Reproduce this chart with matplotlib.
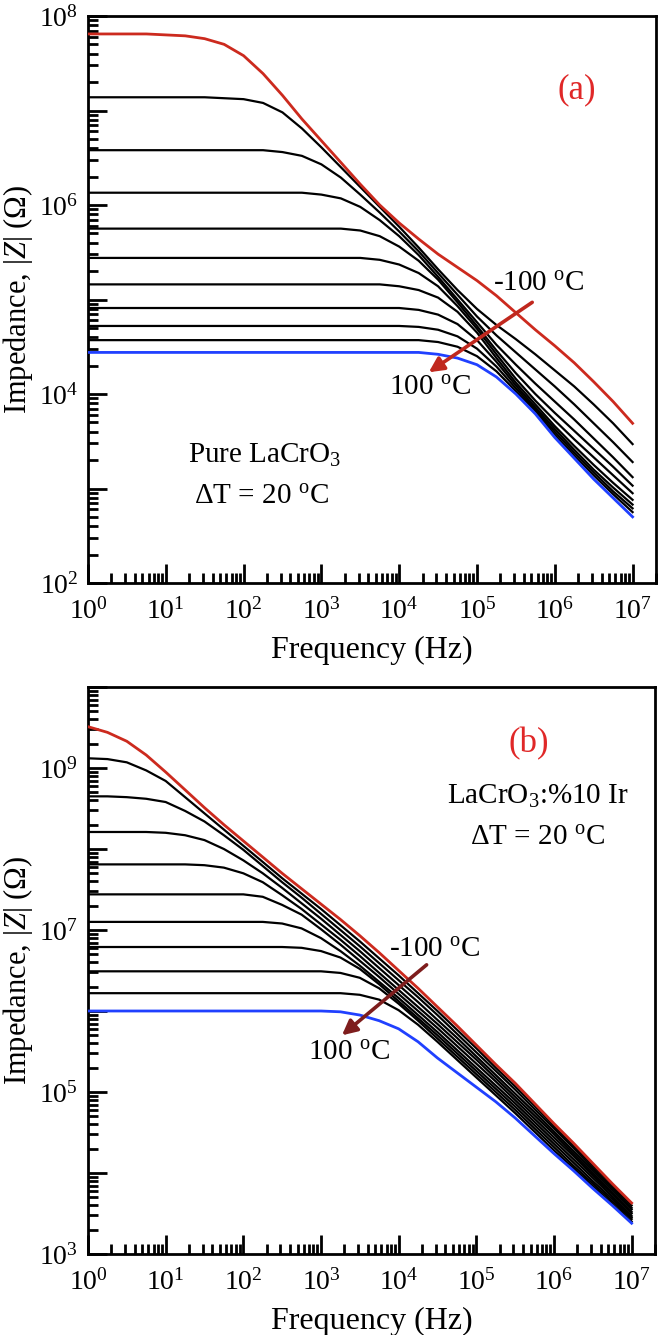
import numpy as np
import matplotlib
matplotlib.use("Agg")
import matplotlib.pyplot as plt
from matplotlib.ticker import LogLocator, NullFormatter

plt.rcParams.update({
    "font.family": ["Liberation Serif", "DejaVu Serif"],
    "mathtext.fontset": "custom",
    "mathtext.rm": "Liberation Serif",
    "mathtext.it": "Liberation Serif:italic",
    "mathtext.bf": "Liberation Serif:bold",
})

# ---------------- data ----------------
freq_hz = [1.0, 1.78, 3.16, 5.62, 10, 17.8, 31.6, 56.2, 100, 178, 316, 562,
           1e3, 1.78e3, 3.16e3, 5.62e3, 1e4, 1.78e4, 3.16e4, 5.62e4,
           1e5, 1.78e5, 3.16e5, 5.62e5, 1e6, 1.78e6, 3.16e6, 5.62e6, 1e7]

temperatures_c = [-100, -80, -60, -40, -20, 0, 20, 40, 60, 80, 100]

# panel (a): pure LaCrO3, log10|Z| (Ohm)
a_m100 = [7.81, 7.81, 7.81, 7.81, 7.80, 7.79, 7.76, 7.70, 7.58, 7.39, 7.16, 6.91, 6.68, 6.45, 6.22,
          6.00, 5.81, 5.64, 5.48, 5.34, 5.20, 5.04, 4.86, 4.68, 4.51, 4.33, 4.13, 3.92, 3.69]
a_m80 = [7.14, 7.14, 7.14, 7.14, 7.14, 7.14, 7.14, 7.13, 7.12, 7.08, 6.98, 6.81, 6.61, 6.40, 6.19,
         5.98, 5.77, 5.55, 5.32, 5.10, 4.90, 4.73, 4.58, 4.42, 4.25, 4.08, 3.89, 3.69, 3.47]
a_m60 = [6.58, 6.58, 6.58, 6.58, 6.58, 6.58, 6.58, 6.58, 6.58, 6.58, 6.56, 6.52, 6.43, 6.29, 6.11,
         5.92, 5.72, 5.51, 5.28, 5.05, 4.82, 4.62, 4.44, 4.26, 4.08, 3.89, 3.69, 3.49, 3.28]
a_m40 = [6.13, 6.13, 6.13, 6.13, 6.13, 6.13, 6.13, 6.13, 6.13, 6.13, 6.13, 6.13, 6.11, 6.07, 5.98,
         5.84, 5.67, 5.47, 5.24, 5.00, 4.76, 4.52, 4.31, 4.11, 3.92, 3.73, 3.53, 3.33, 3.12]
a_m20 = [5.75, 5.75, 5.75, 5.75, 5.75, 5.75, 5.75, 5.75, 5.75, 5.75, 5.75, 5.75, 5.75, 5.75, 5.73,
         5.67, 5.56, 5.41, 5.21, 4.97, 4.72, 4.46, 4.22, 4.00, 3.80, 3.61, 3.42, 3.23, 3.03]
a_0 = [5.44, 5.44, 5.44, 5.44, 5.44, 5.44, 5.44, 5.44, 5.44, 5.44, 5.44, 5.44, 5.44, 5.44, 5.44,
       5.42, 5.37, 5.28, 5.14, 4.93, 4.69, 4.42, 4.16, 3.93, 3.72, 3.52, 3.33, 3.14, 2.95]
a_p20 = [5.16, 5.16, 5.16, 5.16, 5.16, 5.16, 5.16, 5.16, 5.16, 5.16, 5.16, 5.16, 5.16, 5.16, 5.16,
         5.16, 5.14, 5.10, 5.02, 4.87, 4.65, 4.38, 4.12, 3.89, 3.66, 3.45, 3.25, 3.06, 2.88]
a_p40 = [4.91, 4.91, 4.91, 4.91, 4.91, 4.91, 4.91, 4.91, 4.91, 4.91, 4.91, 4.91, 4.91, 4.91, 4.91,
         4.91, 4.91, 4.89, 4.84, 4.74, 4.57, 4.34, 4.09, 3.86, 3.63, 3.41, 3.20, 3.01, 2.83]
a_p60 = [4.72, 4.72, 4.72, 4.72, 4.72, 4.72, 4.72, 4.72, 4.72, 4.72, 4.72, 4.72, 4.72, 4.72, 4.72,
         4.72, 4.72, 4.71, 4.68, 4.61, 4.48, 4.29, 4.06, 3.84, 3.60, 3.38, 3.17, 2.97, 2.79]
a_p80 = [4.57, 4.57, 4.57, 4.57, 4.57, 4.57, 4.57, 4.57, 4.57, 4.57, 4.57, 4.57, 4.57, 4.57, 4.57,
         4.57, 4.57, 4.57, 4.55, 4.50, 4.40, 4.24, 4.03, 3.82, 3.57, 3.35, 3.14, 2.94, 2.75]
a_p100 = [4.44, 4.44, 4.44, 4.44, 4.44, 4.44, 4.44, 4.44, 4.44, 4.44, 4.44, 4.44, 4.44, 4.44, 4.44,
          4.44, 4.44, 4.44, 4.42, 4.38, 4.31, 4.18, 4.00, 3.79, 3.54, 3.32, 3.10, 2.90, 2.70]

# panel (b): LaCrO3:%10 Ir, log10|Z| (Ohm)
b_m100 = [9.51, 9.44, 9.33, 9.16, 8.95, 8.73, 8.51, 8.30, 8.10, 7.90, 7.70, 7.51, 7.32, 7.13, 6.93,
          6.72, 6.50, 6.28, 6.05, 5.82, 5.58, 5.34, 5.11, 4.86, 4.61, 4.37, 4.12, 3.87, 3.63]
b_m80 = [9.12, 9.11, 9.07, 8.97, 8.84, 8.64, 8.44, 8.24, 8.04, 7.84, 7.64, 7.45, 7.26, 7.06, 6.86,
         6.65, 6.44, 6.22, 6.00, 5.77, 5.54, 5.30, 5.07, 4.83, 4.58, 4.34, 4.09, 3.85, 3.60]
b_m60 = [8.65, 8.65, 8.64, 8.62, 8.58, 8.47, 8.34, 8.17, 7.99, 7.79, 7.59, 7.40, 7.20, 7.00, 6.80,
         6.59, 6.38, 6.17, 5.95, 5.72, 5.49, 5.26, 5.03, 4.79, 4.55, 4.31, 4.06, 3.82, 3.57]
b_m40 = [8.21, 8.21, 8.21, 8.21, 8.20, 8.17, 8.11, 8.00, 7.86, 7.70, 7.52, 7.33, 7.14, 6.94, 6.74,
         6.53, 6.32, 6.11, 5.89, 5.67, 5.44, 5.21, 4.98, 4.75, 4.51, 4.27, 4.03, 3.79, 3.55]
b_m20 = [7.81, 7.81, 7.81, 7.81, 7.81, 7.81, 7.80, 7.77, 7.70, 7.59, 7.43, 7.26, 7.07, 6.88, 6.68,
         6.47, 6.26, 6.05, 5.84, 5.62, 5.40, 5.17, 4.94, 4.71, 4.48, 4.24, 4.00, 3.76, 3.52]
b_0 = [7.44, 7.44, 7.44, 7.44, 7.44, 7.44, 7.44, 7.44, 7.44, 7.41, 7.31, 7.19, 7.01, 6.82, 6.62,
       6.42, 6.21, 6.00, 5.79, 5.57, 5.35, 5.13, 4.90, 4.67, 4.44, 4.21, 3.97, 3.74, 3.50]
b_p20 = [7.10, 7.10, 7.10, 7.10, 7.10, 7.10, 7.10, 7.10, 7.10, 7.10, 7.08, 7.02, 6.90, 6.74, 6.56,
         6.36, 6.16, 5.95, 5.74, 5.52, 5.30, 5.08, 4.86, 4.63, 4.40, 4.17, 3.94, 3.71, 3.47]
b_p40 = [6.79, 6.79, 6.79, 6.79, 6.79, 6.79, 6.79, 6.79, 6.79, 6.79, 6.79, 6.78, 6.74, 6.66, 6.52,
         6.33, 6.12, 5.91, 5.70, 5.48, 5.26, 5.04, 4.82, 4.59, 4.36, 4.13, 3.90, 3.68, 3.45]
b_p60 = [6.49, 6.49, 6.49, 6.49, 6.49, 6.49, 6.49, 6.49, 6.49, 6.49, 6.49, 6.49, 6.49, 6.47, 6.41,
         6.28, 6.09, 5.88, 5.66, 5.44, 5.22, 5.00, 4.78, 4.55, 4.32, 4.09, 3.87, 3.65, 3.43]
b_p80 = [6.22, 6.22, 6.22, 6.22, 6.22, 6.22, 6.22, 6.22, 6.22, 6.22, 6.22, 6.22, 6.22, 6.22, 6.20,
         6.14, 6.01, 5.83, 5.62, 5.40, 5.18, 4.96, 4.74, 4.51, 4.28, 4.06, 3.84, 3.62, 3.40]
b_p100 = [6.00, 6.00, 6.00, 6.00, 6.00, 6.00, 6.00, 6.00, 6.00, 6.00, 6.00, 6.00, 6.00, 5.99, 5.95,
          5.88, 5.78, 5.62, 5.42, 5.24, 5.06, 4.88, 4.68, 4.46, 4.24, 4.03, 3.81, 3.60, 3.38]

panel_a = [a_m100, a_m80, a_m60, a_m40, a_m20, a_0, a_p20, a_p40, a_p60, a_p80, a_p100]
panel_b = [b_m100, b_m80, b_m60, b_m40, b_m20, b_0, b_p20, b_p40, b_p60, b_p80, b_p100]

xtick_labels = [r"$10^{0}$", r"$10^{1}$", r"$10^{2}$", r"$10^{3}$", r"$10^{4}$",
                r"$10^{5}$", r"$10^{6}$", r"$10^{7}$"]
ytick_labels_a = [r"$10^{2}$", "", r"$10^{4}$", "", r"$10^{6}$", "", r"$10^{8}$"]
ytick_labels_b = [r"$10^{3}$", "", r"$10^{5}$", "", r"$10^{7}$", "", r"$10^{9}$", ""]

RED = "#cc2a1e"
BLUE = "#2040ff"
DEG = r"$^{\rm o}$"

# ---------------- figure ----------------
W, H = 661, 1335
fig = plt.figure(figsize=(W / 100, H / 100), dpi=100)
ax1 = fig.add_axes([88 / W, 1 - 583 / H, (656 - 88) / W, (583 - 16) / H])
ax2 = fig.add_axes([88 / W, 1 - 1254 / H, (655 - 88) / W, (1254 - 687) / H])


def style_axes(ax, ylo, yhi, ylabels):
    ax.set_xscale("log")
    ax.set_yscale("log")
    ax.set_xlim(1, 2e7)
    ax.set_ylim(10 ** ylo, 10 ** yhi)
    ax.set_xticks([10 ** k for k in range(8)])
    ax.set_xticklabels(xtick_labels)
    ax.set_yticks([10 ** k for k in range(ylo, yhi + 1)])
    ax.set_yticklabels(ylabels)
    ax.xaxis.set_minor_locator(LogLocator(base=10, subs=np.arange(2, 10), numticks=30))
    ax.yaxis.set_minor_locator(LogLocator(base=10, subs=np.arange(2, 10), numticks=30))
    ax.xaxis.set_minor_formatter(NullFormatter())
    ax.yaxis.set_minor_formatter(NullFormatter())
    ax.tick_params(which="both", direction="in", top=False, right=False,
                   width=2.0, labelsize=20)
    ax.tick_params(which="major", length=14)
    ax.tick_params(which="minor", length=7.5)
    ax.tick_params(axis="x", which="major", pad=11)
    ax.tick_params(axis="y", which="major", pad=7)
    for s in ax.spines.values():
        s.set_linewidth(2.0)
    ax.set_xlabel("Frequency (Hz)", fontsize=23, labelpad=8)
    ax.set_ylabel(r"Impedance, $|Z|$ (Ω)", fontsize=22, labelpad=3)


def draw_curves(ax, curves):
    n = len(curves)
    for i, lz in enumerate(curves):
        z = 10 ** np.array(lz)
        if i == 0:
            ax.plot(freq_hz, z, color=RED, lw=2.0, zorder=4, solid_joinstyle="round")
        elif i == n - 1:
            ax.plot(freq_hz, z, color=BLUE, lw=2.0, zorder=4, solid_joinstyle="round")
        else:
            ax.plot(freq_hz, z, color="black", lw=1.6, zorder=3, solid_joinstyle="round")


# panel (a)
draw_curves(ax1, panel_a)
style_axes(ax1, 2, 8, ytick_labels_a)
ax1.text(10 ** 6.28, 10 ** 7.22, "(a)", color="#e02828", fontsize=25, ha="center", va="center")
ax1.text(10 ** 5.79, 10 ** 5.17, "-100 " + DEG + "C", fontsize=21, ha="center", va="center")
ax1.text(10 ** 4.40, 10 ** 4.07, "100 " + DEG + "C", fontsize=21, ha="center", va="center")
ax1.text(10 ** 2.27, 10 ** 3.35, r"Pure LaCrO$_3$", fontsize=21, ha="center", va="center")
ax1.text(10 ** 2.23, 10 ** 2.91, "ΔT = 20 " + DEG + "C", fontsize=21, ha="center", va="center")
ax1.annotate("", xy=(10 ** 4.38, 10 ** 4.23), xytext=(10 ** 5.71, 10 ** 4.97),
             arrowprops=dict(arrowstyle="-|>", color="#c0281e", lw=2.6,
                             mutation_scale=22, shrinkA=0, shrinkB=0), zorder=6)

# panel (b)
draw_curves(ax2, panel_b)
style_axes(ax2, 3, 10, ytick_labels_b)
ax2.text(10 ** 5.68, 10 ** 9.30, "(b)", color="#e02828", fontsize=25, ha="center", va="center")
ax2.text(10 ** 5.79, 10 ** 8.65, r"LaCrO$_3$:%10 Ir", fontsize=21, ha="center", va="center")
ax2.text(10 ** 5.79, 10 ** 8.14, "ΔT = 20 " + DEG + "C", fontsize=21, ha="center", va="center")
ax2.text(10 ** 4.47, 10 ** 6.75, "-100 " + DEG + "C", fontsize=21, ha="center", va="center")
ax2.text(10 ** 3.36, 10 ** 5.48, "100 " + DEG + "C", fontsize=21, ha="center", va="center")
ax2.annotate("", xy=(10 ** 3.27, 10 ** 5.70), xytext=(10 ** 4.36, 10 ** 6.57),
             arrowprops=dict(arrowstyle="-|>", color="#7e1d1d", lw=2.6,
                             mutation_scale=22, shrinkA=0, shrinkB=0), zorder=6)

fig.savefig("out.png", dpi=100)
